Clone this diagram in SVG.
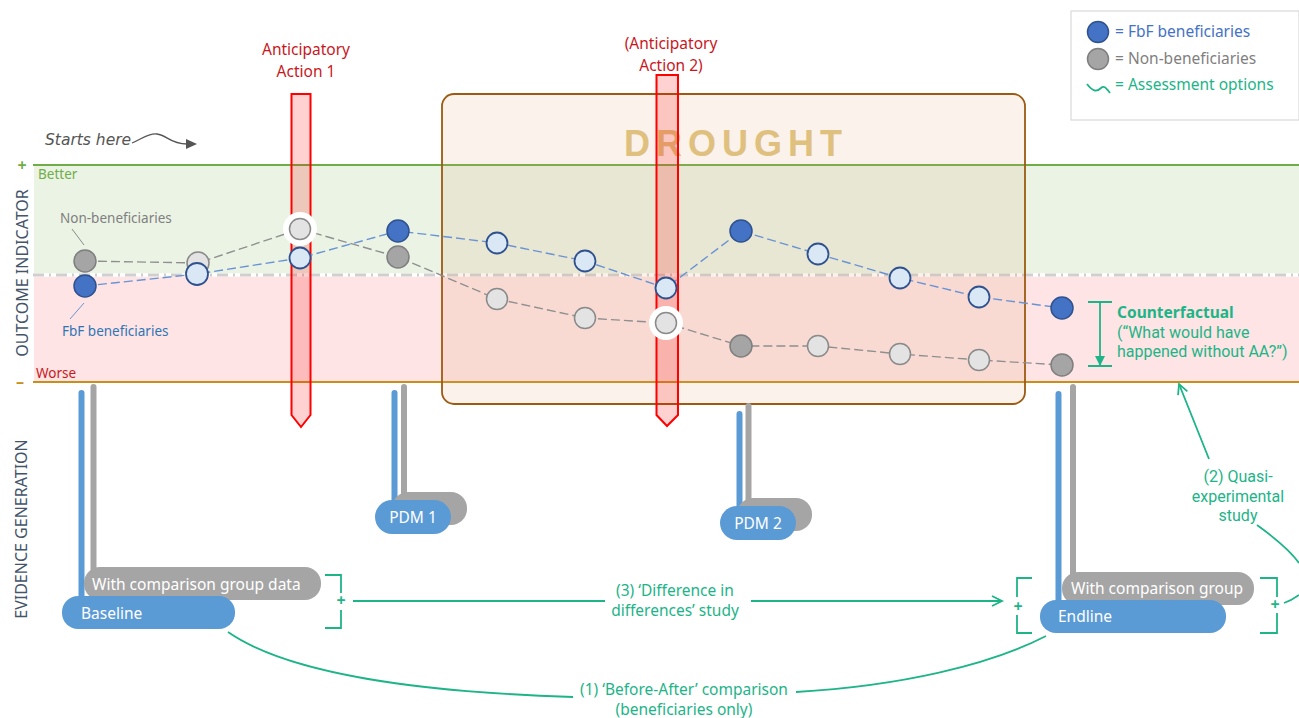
<svg xmlns="http://www.w3.org/2000/svg" width="1299" height="718" viewBox="0 0 1299 718">
<defs>
<marker id="ag" markerWidth="14" markerHeight="14" refX="11" refY="6" orient="auto" markerUnits="userSpaceOnUse"><path d="M1 1 L11 6 L1 11" fill="none" stroke="#1db488" stroke-width="1.8"/></marker>
<marker id="as" markerWidth="12" markerHeight="12" refX="10" refY="5" orient="auto" markerUnits="userSpaceOnUse"><path d="M0 0 L10 5 L0 10Z" fill="#1db488"/></marker>
</defs>
<style>
text{font-family:"Noto Sans","Open Sans","Liberation Sans",sans-serif;font-size:15.5px}
.g{fill:#1db488}.w{fill:#fff}.m{text-anchor:middle}.r{fill:#c8181e}
.lg{fill:none;stroke:#1db488;stroke-width:1.8}
.fd{fill:#4472c4;stroke:#2f528f;stroke-width:1.5}
.fl{fill:#dae8f5;stroke:#2f528f;stroke-width:1.8}
.nd{fill:#a5a5a5;stroke:#7f7f7f;stroke-width:1.5}
.nl{fill:#e3e3e3;stroke:#8a8a8a;stroke-width:1.5}
.dn{fill:none;stroke:#8f8f8f;stroke-width:1.4;stroke-dasharray:9 4}
.df{fill:none;stroke:#6a93d4;stroke-width:1.4;stroke-dasharray:9 4}
.vb{stroke:#5b9bd5;stroke-width:6;stroke-linecap:round}
.vg{stroke:#a5a5a5;stroke-width:6;stroke-linecap:round}
.pb{fill:#5b9bd5}.pg{fill:#a5a5a5}
.ax{fill:#44546a;font-size:16px;text-anchor:middle}
.sm{font-size:13.5px}
.pl{font-size:16px;font-weight:bold;text-anchor:middle}
.tight{font-family:Roboto,"Liberation Sans",sans-serif;font-size:16px}
</style>

<g id="bands">
<rect x="34" y="166" width="1265" height="109" fill="#ebf3e5"/>
<rect x="34" y="275" width="1265" height="107" fill="#fee4e4"/>
<line x1="33" y1="165" x2="1299" y2="165" stroke="#70ad47" stroke-width="1.800"/>
<line x1="33" y1="382" x2="1299" y2="382" stroke="#c8901a" stroke-width="1.800"/>
<line x1="33" y1="275" x2="1299" y2="275" stroke="#fff" stroke-width="3.500"/>
<line x1="33" y1="275" x2="1299" y2="275" stroke="#cfcfcf" stroke-width="2.800" stroke-dasharray="11 5 2 5"/>
<text x="38" y="179" class="sm" fill="#70ad47">Better</text>
<text x="36" y="378" class="sm r">Worse</text>
<text x="22" y="171" class="pl" fill="#70ad47">+</text>
<text x="20" y="387" class="pl" fill="#c8901a">–</text>
<text transform="translate(28 273) rotate(-90)" class="ax">OUTCOME INDICATOR</text>
<text transform="translate(27 529) rotate(-90)" class="ax">EVIDENCE GENERATION</text>
</g>

<g id="start-note">
<text x="45" y="145" style="font-family:'DejaVu Sans',sans-serif;font-size:15.500px;font-style:italic" fill="#555">Starts here</text>
<path d="M132 143 C142 139 148 133 157 134 C167 135 170 144 187 144" fill="none" stroke="#555" stroke-width="1.300"/>
<path d="M186 139 L197 144 L186 149Z" fill="#555"/>
</g>

<g id="aa1">
<path d="M291.500 94 H310.500 V415 L301 427 L291.500 415Z" fill="#f00" fill-opacity=".18" stroke="#f00" stroke-width="2"/>
</g>

<g id="drought">
<rect x="442" y="94" width="583" height="310" rx="12" fill="#dca470" fill-opacity=".14" stroke="#9c5a12" stroke-width="1.800"/>
<text x="736" y="156" class="m" style="font-family:'Liberation Sans',sans-serif;font-size:36px;font-weight:bold;letter-spacing:6px" fill="#dfc07e">DROUGHT</text>
</g>

<g id="aa2">
<path d="M656.500 75 H678 V415 L667 426 L656.500 415Z" fill="#f00" fill-opacity=".18" stroke="#f00" stroke-width="2"/>
</g>
<g id="aa-labels">
<text x="306" y="54.500" class="m r">Anticipatory</text>
<text x="306" y="76.500" class="m r">Action 1</text>
<text x="671" y="48.500" class="m r">(Anticipatory</text>
<text x="671" y="70.500" class="m r">Action 2)</text>
</g>

<g id="connectors">
<polyline class="dn" points="85,261 198,263 300,229 398,257 497,299 585,318 666,323 741,346 818,346 900,354 979,360 1062,365"/>
<polyline class="df" points="85,286 197,274 300,258 398,231 497,243 585,261 666,288 741,231 818,254 900,278 979,297 1062,308"/>
<line x1="72" y1="229" x2="84" y2="245" stroke="#8a8a8a"/>
<line x1="70" y1="319" x2="84" y2="303" stroke="#6a93d4"/>
<line class="vb" x1="81.500" y1="393" x2="81.500" y2="600"/>
<line class="vg" x1="93.500" y1="387" x2="93.500" y2="572"/>
<line class="vb" x1="394.500" y1="393" x2="394.500" y2="505"/>
<line class="vg" x1="404" y1="387" x2="404" y2="497"/>
<line class="vb" x1="739.500" y1="414" x2="739.500" y2="510"/>
<line class="vg" x1="748.500" y1="406" x2="748.500" y2="502"/>
<line class="vb" x1="1058.500" y1="394" x2="1058.500" y2="602"/>
<line class="vg" x1="1073" y1="387" x2="1073" y2="575"/>
<path class="lg" d="M1088 302 H1112 M1088 366 H1112"/>
<line class="lg" x1="1100" y1="302" x2="1100" y2="366" marker-end="url(#as)"/>
<path class="lg" d="M325 575 H341 V593 M341 610 V628 H325"/>
<path class="lg" d="M1032 578 H1017 V597 M1017 615 V633 H1032"/>
<path class="lg" d="M1260 578 H1277 V597 M1277 613 V633 H1260"/>
<line class="lg" x1="353" y1="601" x2="605" y2="601"/>
<line class="lg" x1="751" y1="601" x2="1002" y2="601" marker-end="url(#ag)"/>
<path class="lg" d="M228 632 C290 675 420 692 573 697"/>
<path class="lg" d="M796 692 C900 686 990 665 1046 636"/>
<line class="lg" x1="1209" y1="459" x2="1179" y2="384" marker-end="url(#ag)"/>
<path class="lg" d="M1257 525 C1275 538 1290 550 1299 563"/>
<path class="lg" d="M1284 603 C1290 601 1295 598 1299 595"/>
</g>

<g id="nodes-non">
<circle cx="300" cy="229" r="17" fill="#fff"/>
<circle cx="666" cy="323" r="17" fill="#fff"/>
<circle class="nd" cx="85" cy="261" r="11"/>
<circle class="nl" cx="198" cy="263" r="11"/>
<circle class="nl" cx="300" cy="229" r="10.500"/>
<circle class="nd" cx="398" cy="257" r="11"/>
<circle class="nl" cx="497" cy="299" r="10.500"/>
<circle class="nl" cx="585" cy="318" r="10.500"/>
<circle class="nl" cx="666" cy="323" r="10.500"/>
<circle class="nd" cx="741" cy="346" r="11"/>
<circle class="nl" cx="818" cy="346" r="10.500"/>
<circle class="nl" cx="900" cy="354" r="10.500"/>
<circle class="nl" cx="979" cy="360" r="10.500"/>
<circle class="nd" cx="1062" cy="365" r="11"/>
</g>
<g id="nodes-fbf">
<circle class="fd" cx="85" cy="286" r="11"/>
<circle class="fl" cx="197" cy="274" r="11"/>
<circle class="fl" cx="300" cy="258" r="10.500"/>
<circle class="fd" cx="398" cy="231" r="11"/>
<circle class="fl" cx="497" cy="243" r="10.500"/>
<circle class="fl" cx="585" cy="261" r="10.500"/>
<circle class="fl" cx="666" cy="288" r="10.500"/>
<circle class="fd" cx="741" cy="231" r="11"/>
<circle class="fl" cx="818" cy="254" r="10.500"/>
<circle class="fl" cx="900" cy="278" r="10.500"/>
<circle class="fl" cx="979" cy="297" r="10.500"/>
<circle class="fd" cx="1062" cy="308" r="11"/>
</g>

<g id="series-labels">
<text x="60" y="223" class="sm" fill="#7f7f7f">Non-beneficiaries</text>
<text x="62" y="336" class="sm" fill="#2e75b6">FbF beneficiaries</text>
</g>

<g id="counterfactual">
<text x="1117" y="318" class="g" style="font-weight:bold">Counterfactual</text>
<text x="1117" y="338" class="g tight">(“What would have</text>
<text x="1117" y="357" class="g tight">happened without AA?”)</text>
</g>

<g id="pdm1">
<rect x="392" y="492" width="75" height="33" rx="16" class="pg"/>
<rect x="375" y="500" width="76" height="34" rx="17" class="pb"/>
<text x="413" y="523" class="m w">PDM 1</text>
</g>
<g id="pdm2">
<rect x="737" y="498" width="75" height="33" rx="16" class="pg"/>
<rect x="720" y="506" width="76" height="34" rx="17" class="pb"/>
<text x="758" y="529" class="m w">PDM 2</text>
</g>
<g id="baseline">
<rect x="84" y="567" width="237" height="33" rx="16" class="pg"/>
<text x="92" y="590" class="w">With comparison group data</text>
<rect x="62" y="596" width="173" height="33" rx="16" class="pb"/>
<text x="81" y="619" class="w">Baseline</text>
</g>
<g id="endline">
<rect x="1062" y="572" width="192" height="33" rx="16" class="pg"/>
<text x="1071" y="594" class="w">With comparison group</text>
<rect x="1040" y="600" width="186" height="33" rx="16" class="pb"/>
<text x="1058" y="622" class="w">Endline</text>
</g>

<g id="assessment-labels">
<text x="341" y="606" class="pl g">+</text>
<text x="1018" y="612" class="pl g">+</text>
<text x="1275" y="610" class="pl g">+</text>
<text x="675" y="596" class="m g">(3) ‘Difference in</text>
<text x="675" y="616" class="m g">differences’ study</text>
<text x="684" y="695" class="m g">(1) ‘Before-After’ comparison</text>
<text x="684" y="715" class="m g">(beneficiaries only)</text>
<text x="1238" y="482" class="m g tight">(2) Quasi-</text>
<text x="1238" y="502" class="m g tight">experimental</text>
<text x="1238" y="521" class="m g tight">study</text>
</g>

<g id="legend">
<rect x="1071" y="11" width="228" height="109" fill="#fff" stroke="#d9d9d9" stroke-width="1.200"/>
<circle class="fd" cx="1098" cy="32" r="10.500"/>
<circle class="nd" cx="1098" cy="59" r="10.500"/>
<path class="lg" d="M1087 84 C1093 92 1097 92 1101 88 C1104 85 1106 88 1110 93"/>
<text x="1115" y="37" fill="#4472c4">= FbF beneficiaries</text>
<text x="1115" y="64" fill="#7f7f7f">= Non-beneficiaries</text>
<text x="1115" y="90" class="g">= Assessment options</text>
</g>
</svg>
